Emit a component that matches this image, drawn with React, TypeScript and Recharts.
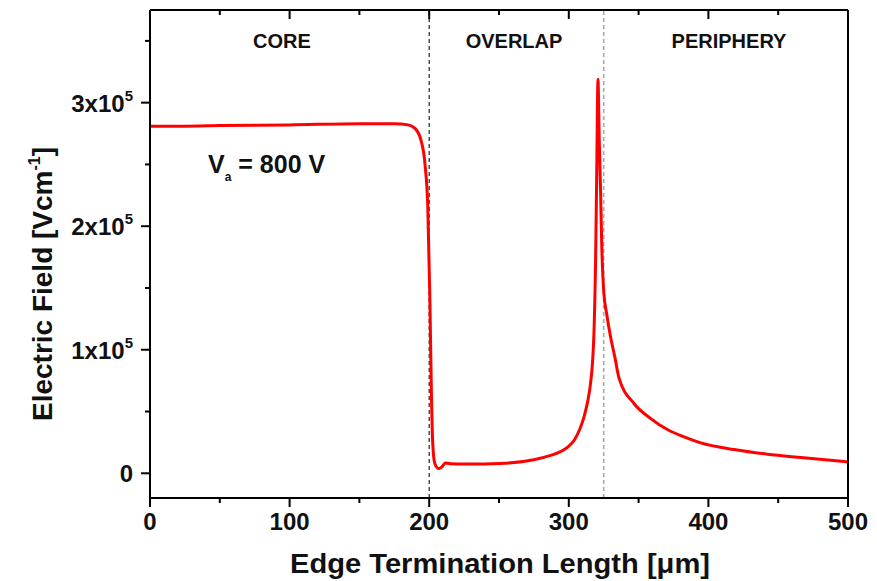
import React from 'react';
import { LineChart, Line, XAxis, YAxis, ReferenceLine } from 'recharts';

const positions = [
  0, 25, 50, 100, 150, 175, 185, 190, 194, 197, 199, 200.5, 201.5, 202.5, 204, 206.8, 209, 211.6, 215,
  227, 251, 275, 287, 294, 299, 304, 308, 311, 313.5, 315.6, 317, 318, 319.2, 320, 320.9, 321.8, 322.8,
  323.5, 325.1, 327, 329.9, 333, 336, 346.7, 358.7, 370.6, 382.6, 394.5, 418.4, 442.3, 466.3, 500,
];

// electric field in units of 1e5 V/cm
const fieldE5 = [
  2.81, 2.81, 2.815, 2.82, 2.83, 2.83, 2.82, 2.79, 2.7, 2.5, 2.15, 1.4, 0.7, 0.25, 0.08, 0.038, 0.05, 0.084, 0.078,
  0.075, 0.08, 0.11, 0.145, 0.175, 0.21, 0.27, 0.36, 0.46, 0.58, 0.73, 0.9, 1.13, 1.73, 2.43, 3.19, 2.7, 2.27,
  1.89, 1.46, 1.3, 1.105, 0.94, 0.77, 0.565, 0.443, 0.354, 0.294, 0.246, 0.192, 0.154, 0.127, 0.092,
];

const xTicks = [0, 50, 100, 150, 200, 250, 300, 350, 400, 450, 500];
const yTicks = [0, 50000, 100000, 150000, 200000, 250000, 300000, 350000];
const regionLines = [200, 325];
const regions = ['CORE', 'OVERLAP', 'PERIPHERY'];

const data = positions.map((x, i) => ({ x, field: fieldE5[i] * 1e5 }));

const FONT = '"Liberation Sans", Arial, sans-serif';
const INK = '#111';

const BottomTick = (props: any) => {
  const { x, y, payload } = props;
  const major = payload.value % 100 === 0;
  return (
    <g>
      <line x1={x} y1={y} x2={x} y2={y + (major ? 9 : 5)} stroke="#000" strokeWidth={2} />
      {major && (
        <text x={x} y={y + 32} textAnchor="middle" fontFamily={FONT} fontSize={24} fontWeight="bold" fill={INK}>
          {payload.value}
        </text>
      )}
    </g>
  );
};

const TopTick = (props: any) => {
  const { x, y, payload } = props;
  const major = payload.value % 100 === 0;
  return <line x1={x} y1={y} x2={x} y2={y + (major ? 9 : 5)} stroke="#000" strokeWidth={2} />;
};

const LeftTick = (props: any) => {
  const { x, y, payload } = props;
  const v = payload.value;
  const major = v % 100000 === 0;
  return (
    <g>
      <line x1={x} y1={y} x2={x - (major ? 9 : 5)} y2={y} stroke="#000" strokeWidth={2} />
      {major && (
        <text x={x - 17} y={y + 9} textAnchor="end" fontFamily={FONT} fontSize={24} fontWeight="bold" fill={INK}>
          {v === 0 ? (
            '0'
          ) : (
            <>
              {v / 100000}x10
              <tspan dy={-11} fontSize={15}>5</tspan>
            </>
          )}
        </text>
      )}
    </g>
  );
};

const RightTick = (props: any) => {
  const { x, y, payload } = props;
  const major = payload.value % 100000 === 0;
  return <line x1={x} y1={y} x2={x - (major ? 9 : 5)} y2={y} stroke="#000" strokeWidth={2} />;
};

export default function App() {
  return (
    <div style={{ position: 'absolute', left: 0, top: 0, width: 877, height: 581, background: '#fff' }}>
      <LineChart width={877} height={581} data={data} margin={{ top: 9, right: 28, bottom: 82, left: 149 }}>
        <XAxis
          xAxisId="bottom"
          dataKey="x"
          type="number"
          domain={[0, 500]}
          ticks={xTicks}
          interval={0}
          height={1}
          tickSize={0}
          tickMargin={0}
          tickLine={false}
          tick={<BottomTick />}
          axisLine={{ stroke: '#000', strokeWidth: 2 }}
        />
        <XAxis
          xAxisId="top"
          orientation="top"
          dataKey="x"
          type="number"
          domain={[0, 500]}
          ticks={xTicks}
          interval={0}
          height={1}
          tickSize={0}
          tickMargin={0}
          tickLine={false}
          tick={<TopTick />}
          axisLine={{ stroke: '#000', strokeWidth: 2 }}
        />
        <YAxis
          yAxisId="left"
          type="number"
          domain={[-20000, 375000]}
          ticks={yTicks}
          interval={0}
          width={1}
          tickSize={0}
          tickMargin={0}
          tickLine={false}
          tick={<LeftTick />}
          axisLine={{ stroke: '#000', strokeWidth: 2 }}
        />
        <YAxis
          yAxisId="right"
          orientation="right"
          type="number"
          domain={[-20000, 375000]}
          ticks={yTicks}
          interval={0}
          width={1}
          tickSize={0}
          tickMargin={0}
          tickLine={false}
          tick={<RightTick />}
          axisLine={{ stroke: '#000', strokeWidth: 2 }}
        />
        <ReferenceLine xAxisId="bottom" yAxisId="left" x={regionLines[0]} stroke="#222" strokeDasharray="4 3" strokeWidth={1.2} />
        <ReferenceLine xAxisId="bottom" yAxisId="left" x={regionLines[1]} stroke="#aaa" strokeDasharray="4 3" strokeWidth={1.6} />
        <Line
          xAxisId="bottom"
          yAxisId="left"
          type="monotone"
          dataKey="field"
          stroke="#ff0000"
          strokeWidth={3}
          dot={false}
          isAnimationActive={false}
        />
      </LineChart>
      <svg
        width={877}
        height={581}
        style={{ position: 'absolute', left: 0, top: 0, pointerEvents: 'none' }}
        fontFamily={FONT}
        fontWeight="bold"
        fill={INK}
      >
        <text x={282} y={48} textAnchor="middle" fontSize={20}>{regions[0]}</text>
        <text x={514} y={48} textAnchor="middle" fontSize={20}>{regions[1]}</text>
        <text x={729} y={48} textAnchor="middle" fontSize={20}>{regions[2]}</text>
        <text x={208} y={173} fontSize={25}>
          V<tspan dy={8} fontSize={12}>a</tspan>
          <tspan dy={-8}> = 800 V</tspan>
        </text>
        <text x={500} y={573} textAnchor="middle" fontSize={27} textLength={420} lengthAdjust="spacingAndGlyphs">
          Edge Termination Length [μm]
        </text>
        <text
          x={52}
          y={284}
          textAnchor="middle"
          fontSize={28}
          transform="rotate(-90, 52, 284)"
        >
          Electric Field [Vcm<tspan dy={-12} fontSize={16}>-1</tspan>
          <tspan dy={12}>]</tspan>
        </text>
      </svg>
    </div>
  );
}
